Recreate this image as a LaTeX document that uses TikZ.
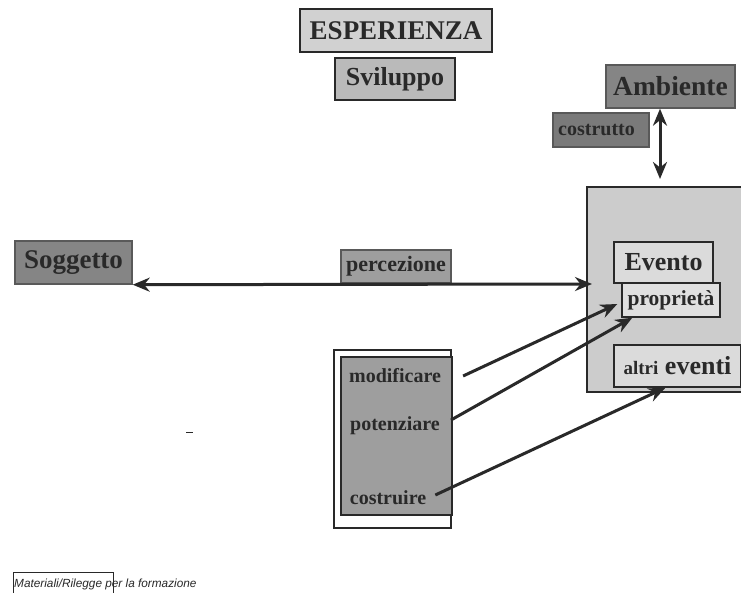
\documentclass[tikz,border=0pt]{standalone}
\usepackage{fontspec}
\setmainfont{Liberation Serif}
\newfontfamily\footfont{Liberation Sans}
\usetikzlibrary{arrows.meta}
\definecolor{ink}{gray}{0.16}
\newcommand{\fsz}[1]{\bfseries\fontsize{#1}{#1}\selectfont}
\tikzset{
  x=1pt,y=-1pt,
  lbl/.style={rectangle,draw=ink,line width=1.4pt,text=ink,inner sep=0pt,align=center},
  plain/.style={inner sep=0pt,text=ink,font=\fsz{20}},
  conn/.style={draw=ink,line width=3pt,-{Stealth[length=17pt,width=14pt]}},
  both/.style={draw=ink,line width=3pt,{Stealth[length=17pt,width=14pt]}-{Stealth[length=17pt,width=14pt]}}
}
\begin{document}
\begin{tikzpicture}
\useasboundingbox (0,0) rectangle (741,593);
\fill[white] (0,0) rectangle (741,593);
% big event panel
\node[lbl,fill=black!20,line width=1.1pt,minimum width=170pt,minimum height=205pt] (panel) at (672,289.5) {};
\node[lbl,fill=black!18,minimum width=192pt,minimum height=43pt,font=\fsz{27}] (esp) at (396,30.5) {ESPERIENZA};
\node[lbl,fill=black!27,minimum width=120pt,minimum height=42pt,font=\fsz{26}] (svi) at (395,79) {Sviluppo};
\node[lbl,fill=black!48,minimum width=129pt,minimum height=43pt,font=\fsz{27.5},draw=black!65] (amb) at (670.5,86.5) {Ambiente};
\node[lbl,fill=black!52,minimum width=96pt,minimum height=34pt,font=\fsz{20},draw=black!65] (cos) at (601,130) {\raisebox{1pt}{\hspace*{-9pt}costrutto}};
\node[lbl,fill=black!48,minimum width=117pt,minimum height=43pt,font=\fsz{27},draw=black!65] (sog) at (73.5,262.5) {Soggetto};
\node[lbl,fill=black!38,minimum width=110pt,minimum height=33pt,font=\fsz{22},draw=black!65] (per) at (396,266.5) {percezione};
\node[lbl,fill=black!14,minimum width=99pt,minimum height=41pt,font=\fsz{26}] (eve) at (663.5,262.5) {Evento};
\node[lbl,fill=black!12,minimum width=98pt,minimum height=34pt,font=\fsz{21.5}] (pro) at (671,300) {proprietà};
\node[lbl,fill=black!14,minimum width=127pt,minimum height=42pt,font=\fsz{26}] (alt) at (677.5,366) {{\fsz{19}altri} eventi};
% left stack
\node[rectangle,draw=ink,line width=1.2pt,fill=white,minimum width=117pt,minimum height=178pt] (outer) at (392.5,439) {};
\node[rectangle,draw=ink,line width=1.4pt,fill=black!38,minimum width=111pt,minimum height=158pt] (inner) at (396.5,436) {};
\node[plain] (mod) at (395,376) {modificare};
\node[plain] (pot) at (395,426) {potenziare};
\node[plain] (cst) at (388,498) {costruire};
% connectors
\draw[both] (amb.south -| 660,0) -- (660,179);
\coordinate (sogend) at (sog.south east);
\coordinate (panelhit) at (592,284);
\draw[both] (sogend) -- (panelhit);
\draw[conn] ([xshift=22pt]mod.east) -- ([xshift=-4pt,yshift=-4pt]pro.west);
\draw[conn] ([xshift=11pt,yshift=6pt]pot.east) -- ([xshift=11pt]pro.south west);
\draw[conn] ([xshift=9pt,yshift=3pt]cst.east) -- ([xshift=-12pt]alt.south);
% stray mark
\coordinate (m1) at (186,432);
\coordinate (m2) at (193,432);
\draw[ink,line width=1pt] (m1) -- (m2);
% footer
\node[rectangle,draw=ink,line width=1pt,minimum width=100pt,minimum height=22pt,anchor=north west] (foot) at (13,572) {};
\node[anchor=west,inner sep=0pt,text=ink,font=\footfont\itshape\fontsize{11.8}{13}\selectfont] (ftxt) at (14,584) {Materiali/Rilegge per la formazione};
\end{tikzpicture}
\end{document}
